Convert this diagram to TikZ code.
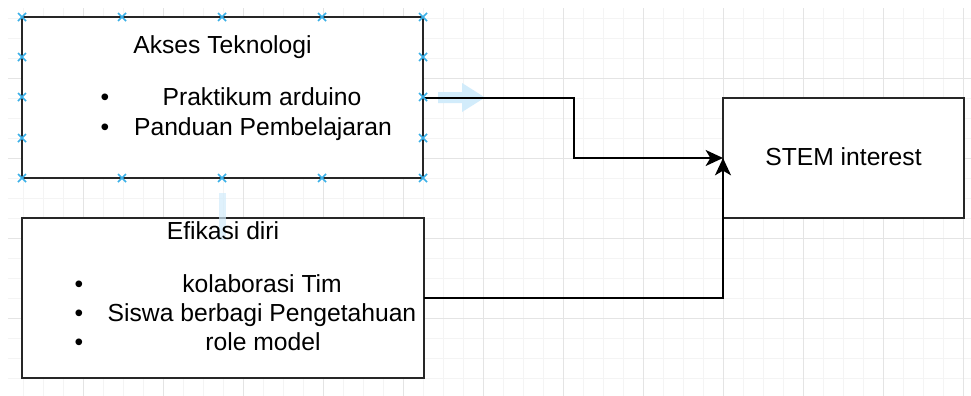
\documentclass[tikz,border=0pt]{standalone}
\usepackage{fontspec}
\setmainfont{Liberation Sans}
\usetikzlibrary{arrows.meta}
\definecolor{gridminor}{RGB}{244,244,244}
\definecolor{gridmajor}{RGB}{228,228,228}
\definecolor{mkblue}{RGB}{58,176,232}
\definecolor{hoverblue}{RGB}{210,236,251}
\tikzset{
  box/.style={draw=black!85, line width=1.6pt, fill=white, inner sep=0pt, outer sep=0pt},
  conn/.style={draw=black, line width=1.5pt, -{Stealth[length=13pt, width=12pt, inset=3.5pt]}},
  lbl/.style={inner sep=0pt, anchor=base, font=\fontsize{18.5}{22}\selectfont},
  mk/.style={draw=mkblue, line width=1.3pt},
}
\begin{document}
\begin{tikzpicture}[x=0.75pt, y=-0.75pt]
\useasboundingbox (0,0) rectangle (971,396);
\fill[white] (0,0) rectangle (971,396);
% grid
\foreach \x in {23,43,...,963} \draw[gridminor, line width=0.75pt] (\x,8) -- (\x,396);
\foreach \y in {18,38,...,396} \draw[gridminor, line width=0.75pt] (8,\y) -- (971,\y);
\foreach \x in {83,163,...,963} \draw[gridmajor, line width=0.75pt] (\x,8) -- (\x,396);
\foreach \y in {78,158,238,318} \draw[gridmajor, line width=0.75pt] (8,\y) -- (971,\y);
% hover arrow (right)
\fill[hoverblue] (438,92) -- (462,92) -- (462,83) -- (485,97.5) -- (462,112) -- (462,103) -- (438,103) -- cycle;
% boxes
\node[box, minimum width=300.75pt, minimum height=120.75pt] (akses) at (222.5,97.5) {};
\node[box, minimum width=301.5pt, minimum height=120pt] (efikasi) at (223,298) {};
\node[box, minimum width=180.75pt, minimum height=90pt] (stem) at (843.5,158) {};
% hover arrow (down), faint over box
\fill[hoverblue, fill opacity=0.7] (219,193) rectangle (226,240);
% connectors
\draw[conn] (akses.east) -- ++(150.5,0) |- (stem.west);
\draw[conn] (efikasi.east) -| (stem.west);
% selection markers
\foreach \x in {22,122,222,322,423} {
  \foreach \y in {17,178} {
    \draw[mk] (\x-4,\y-4) -- (\x+4,\y+4) (\x-4,\y+4) -- (\x+4,\y-4);
  }
}
\foreach \x in {22,423} {
  \foreach \y in {57,97,138} {
    \draw[mk] (\x-4,\y-4) -- (\x+4,\y+4) (\x-4,\y+4) -- (\x+4,\y-4);
  }
}
% texts
\node[lbl] (t1) at (222.5,53) {Akses Teknologi};
\node[lbl] (b1) at (105,105) {•};
\node[lbl] (t1a) at (262,105) {Praktikum arduino};
\node[lbl] (b2) at (105,135) {•};
\node[lbl] (t1b) at (263,135) {Panduan Pembelajaran};
\node[lbl] (t2) at (223,239) {Efikasi diri};
\node[lbl] (b3) at (79,292) {•};
\node[lbl] (t2a) at (262,292) {kolaborasi Tim};
\node[lbl] (b4) at (79,321) {•};
\node[lbl] (t2b) at (262,321) {Siswa berbagi Pengetahuan};
\node[lbl] (b5) at (79,350) {•};
\node[lbl] (t2c) at (263,350) {role model};
\node[lbl] (t3) at (843.5,165) {STEM interest};
\end{tikzpicture}
\end{document}
